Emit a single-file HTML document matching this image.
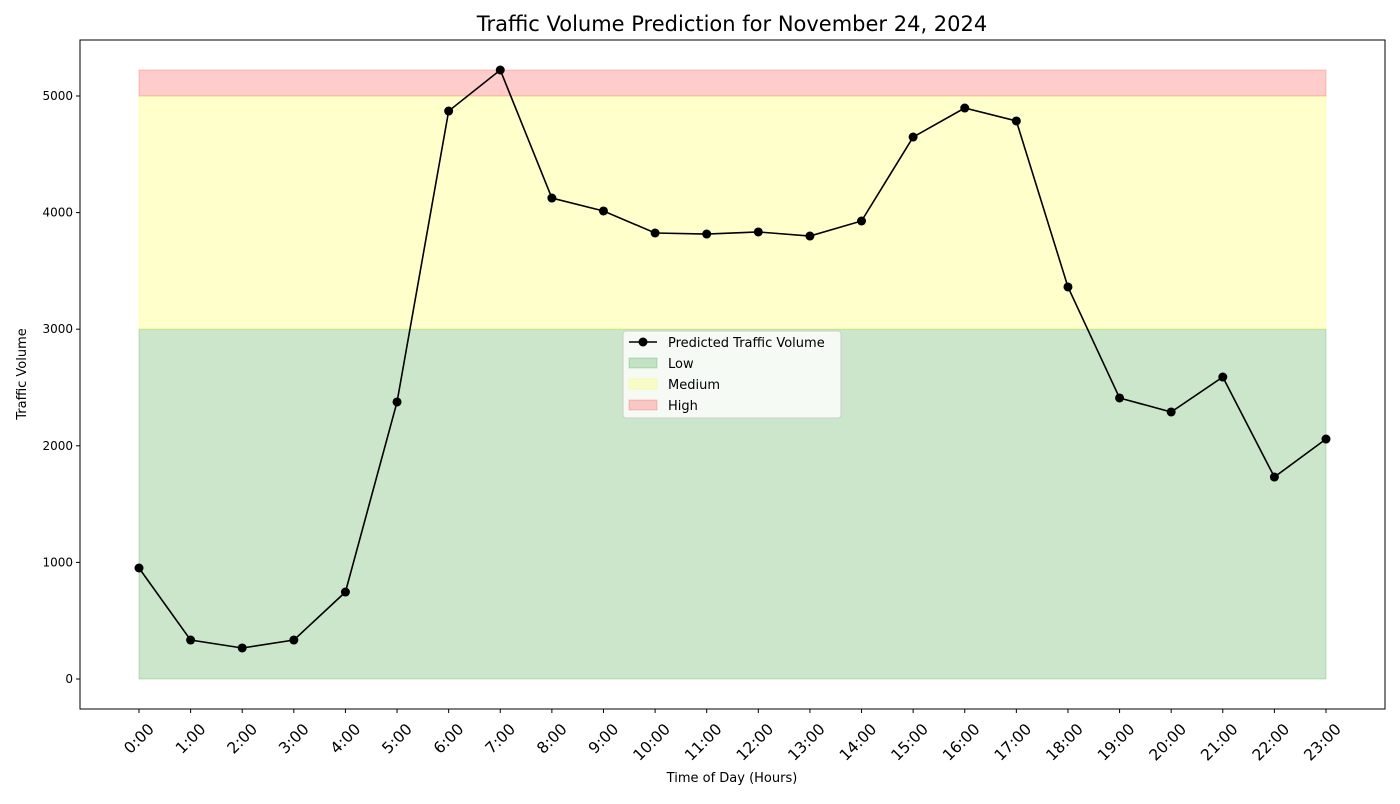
<!DOCTYPE html>
<html><head><meta charset="utf-8"><style>
body{margin:0;background:#fff;font-family:"DejaVu Sans","Liberation Sans",sans-serif;}
svg text{font-family:"DejaVu Sans","Liberation Sans",sans-serif;}
</style></head><body>
<svg id="chart" width="1400" height="800" xmlns="http://www.w3.org/2000/svg"></svg>
<script>
const hours=["0:00","1:00","2:00","3:00","4:00","5:00","6:00","7:00","8:00","9:00","10:00","11:00","12:00","13:00","14:00","15:00","16:00","17:00","18:00","19:00","20:00","21:00","22:00","23:00"];
const volumes=[952,334,266,334,746,2376,4871,5223,4125,4014,3825,3816,3834,3799,3928,4648,4897,4786,3362,2410,2290,2590,1732,2058];
const yTicks=[0,1000,2000,3000,4000,5000];
const bandLow=[0,3000],bandMed=[3000,5000];
const NS="http://www.w3.org/2000/svg";
const svg=document.getElementById('chart');
const L=80,R=1385,T=40,B=709;
const x=i=>139+i*(1326-139)/23;
const y=v=>679-v*(679-96)/5000;
function el(t,a,p){const e=document.createElementNS(NS,t);for(const k in a)e.setAttribute(k,a[k]);(p||svg).appendChild(e);return e;}
const maxV=Math.max(...volumes);
const bands=[[bandLow[0],bandLow[1],'green','low-band'],[bandMed[0],bandMed[1],'yellow','medium-band'],[5000,maxV,'red','high-band']];
for(const b of bands){
 const r=el('rect',{x:x(0),y:y(b[1]),width:x(23)-x(0),height:y(b[0])-y(b[1]),fill:b[2],'fill-opacity':0.2,stroke:b[2],'stroke-opacity':0.2});
 
 
}
el('rect',{x:L,y:T,width:R-L,height:B-T,fill:'none',stroke:'#000','stroke-width':1});
for(const v of yTicks){
 el('line',{x1:L-4,x2:L,y1:y(v),y2:y(v),stroke:'#000'});
 const t=el('text',{x:L-7,y:y(v)+4,'text-anchor':'end','font-size':12});t.textContent=v;
 
 
}
hours.forEach((h,i)=>{
 el('line',{x1:x(i),x2:x(i),y1:B,y2:B+4,stroke:'#000'});
 const ax=x(i)+16, ay=B+21;
 const t=el('text',{x:ax,y:ay,'text-anchor':'end','font-size':15.5,transform:`rotate(-45 ${ax} ${ay})`});t.textContent=h;
 
 
});
const line=el('polyline',{points:volumes.map((v,i)=>x(i)+','+y(v)).join(' '),fill:'none',stroke:'#000','stroke-width':1.6});


volumes.forEach((v,i)=>{
 const c=el('circle',{cx:x(i),cy:y(v),r:4.5,fill:'#000'});
 
 
});
const title=el('text',{x:732,y:31,'text-anchor':'middle','font-size':21});title.textContent='Traffic Volume Prediction for November 24, 2024';


const xt=el('text',{x:732,y:782,'text-anchor':'middle','font-size':13});xt.textContent='Time of Day (Hours)';


const yt=el('text',{x:26,y:374,'text-anchor':'middle','font-size':13,transform:'rotate(-90 26 374)'});yt.textContent='Traffic Volume';


const lg=el('g',{});


el('rect',{x:623,y:331,width:218,height:87,rx:3,fill:'#fff','fill-opacity':0.8,stroke:'#ccc'},lg);
el('line',{x1:629,x2:657,y1:342,y2:342,stroke:'#000','stroke-width':1.6},lg);
el('circle',{cx:643,cy:342,r:4.5,fill:'#000'},lg);
const items=[['Predicted Traffic Volume',null],['Low','green'],['Medium','yellow'],['High','red']];
items.forEach((it,k)=>{
 const yy=342+k*21;
 if(it[1])el('rect',{x:629,y:yy-5,width:28,height:10,fill:it[1],'fill-opacity':0.2,stroke:it[1],'stroke-opacity':0.2},lg);
 const t=el('text',{x:668,y:yy+5,'font-size':13},lg);t.textContent=it[0];
 
 
});
</script>
</body></html>
